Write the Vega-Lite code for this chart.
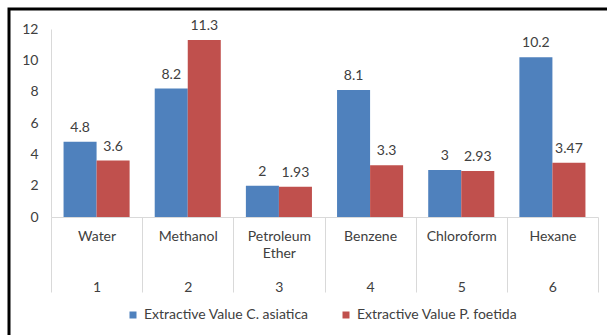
{
  "$schema": "https://vega.github.io/schema/vega-lite/v6.json",
  "autosize": {"type": "none"},
  "padding": {"left": 9, "top": 9, "right": -4, "bottom": -4},
  "width": 602,
  "height": 330,
  "background": "white",
  "config": {
    "view": {"stroke": "#000000", "strokeWidth": 3},
    "font": "Lato",
    "text": {"font": "Lato"},
    "legend": {"labelFontSize": 14, "labelFont": "Lato", "labelColor": "#404040"}
  },
  "data": {
    "values": [
      {"solvent": "Water", "series": "Extractive Value C. asiatica", "value": 4.8},
      {"solvent": "Water", "series": "Extractive Value P. foetida", "value": 3.6},
      {"solvent": "Methanol", "series": "Extractive Value C. asiatica", "value": 8.2},
      {"solvent": "Methanol", "series": "Extractive Value P. foetida", "value": 11.3},
      {"solvent": "Petroleum Ether", "series": "Extractive Value C. asiatica", "value": 2},
      {"solvent": "Petroleum Ether", "series": "Extractive Value P. foetida", "value": 1.93},
      {"solvent": "Benzene", "series": "Extractive Value C. asiatica", "value": 8.1},
      {"solvent": "Benzene", "series": "Extractive Value P. foetida", "value": 3.3},
      {"solvent": "Chloroform", "series": "Extractive Value C. asiatica", "value": 3},
      {"solvent": "Chloroform", "series": "Extractive Value P. foetida", "value": 2.93},
      {"solvent": "Hexane", "series": "Extractive Value C. asiatica", "value": 10.2},
      {"solvent": "Hexane", "series": "Extractive Value P. foetida", "value": 3.47}
    ]
  },
  "encoding": {
    "x": {
      "field": "solvent",
      "type": "nominal",
      "sort": ["Water", "Methanol", "Petroleum Ether", "Benzene", "Chloroform", "Hexane"],
      "scale": {"range": [42, 589], "paddingInner": 0, "paddingOuter": 0},
      "axis": {
        "orient": "bottom",
        "offset": -122,
        "title": null,
        "domain": true,
        "domainColor": "#d9d9d9",
        "domainWidth": 1,
        "ticks": true,
        "tickBand": "extent",
        "tickSize": 75,
        "tickColor": "#d9d9d9",
        "tickWidth": 1,
        "labelPadding": -63,
        "labelAngle": 0,
        "labelFontSize": 14,
        "labelColor": "#404040",
        "labelLineHeight": 17,
        "labelOverlap": false,
        "labelBound": false,
        "labelFlush": false,
        "labelExpr": "datum.value=='Water'?['Water','\u2800','\u2800','1']:datum.value=='Methanol'?['Methanol','\u2800','\u2800','2']:datum.value=='Petroleum Ether'?['Petroleum','Ether','\u2800','3']:datum.value=='Benzene'?['Benzene','\u2800','\u2800','4']:datum.value=='Chloroform'?['Chloroform','\u2800','\u2800','5']:datum.value=='Hexane'?['Hexane','\u2800','\u2800','6']:''"
      }
    }
  },
  "layer": [
    {
      "mark": {"type": "bar"},
      "encoding": {
        "xOffset": {"field": "series", "type": "nominal", "scale": {"paddingInner": 0, "paddingOuter": 0.38}},
        "y": {
          "field": "value",
          "type": "quantitative",
          "scale": {"domain": [0, 12], "range": [208, 20], "nice": false, "zero": true},
          "axis": {
            "orient": "left",
            "offset": -42,
            "title": null,
            "domain": true,
            "domainColor": "#d9d9d9",
            "domainWidth": 1,
            "ticks": false,
            "grid": false,
            "values": [0, 2, 4, 6, 8, 10, 12],
            "labelPadding": 13,
            "labelFontSize": 14,
            "labelColor": "#404040"
          }
        },
        "color": {
          "field": "series",
          "type": "nominal",
          "scale": {"range": ["#4F81BD", "#C0504D"]},
          "legend": {
            "orient": "none",
            "legendX": 117,
            "legendY": 299,
            "direction": "horizontal",
            "title": null,
            "symbolType": "square",
            "symbolSize": 49,
            "symbolStrokeWidth": 0,
            "labelFontSize": 14,
            "labelFont": "Lato",
            "labelColor": "#404040",
            "labelLimit": 300,
            "labelOffset": 4,
            "columnPadding": 30
          }
        }
      }
    },
    {
      "mark": {"type": "text", "baseline": "middle", "dy": -14, "fontSize": 14, "color": "#404040"},
      "encoding": {
        "xOffset": {"field": "series", "type": "nominal", "scale": {"paddingInner": 0, "paddingOuter": 0.38}},
        "y": {"field": "value", "type": "quantitative"},
        "text": {"field": "value", "type": "quantitative"}
      }
    }
  ]
}
